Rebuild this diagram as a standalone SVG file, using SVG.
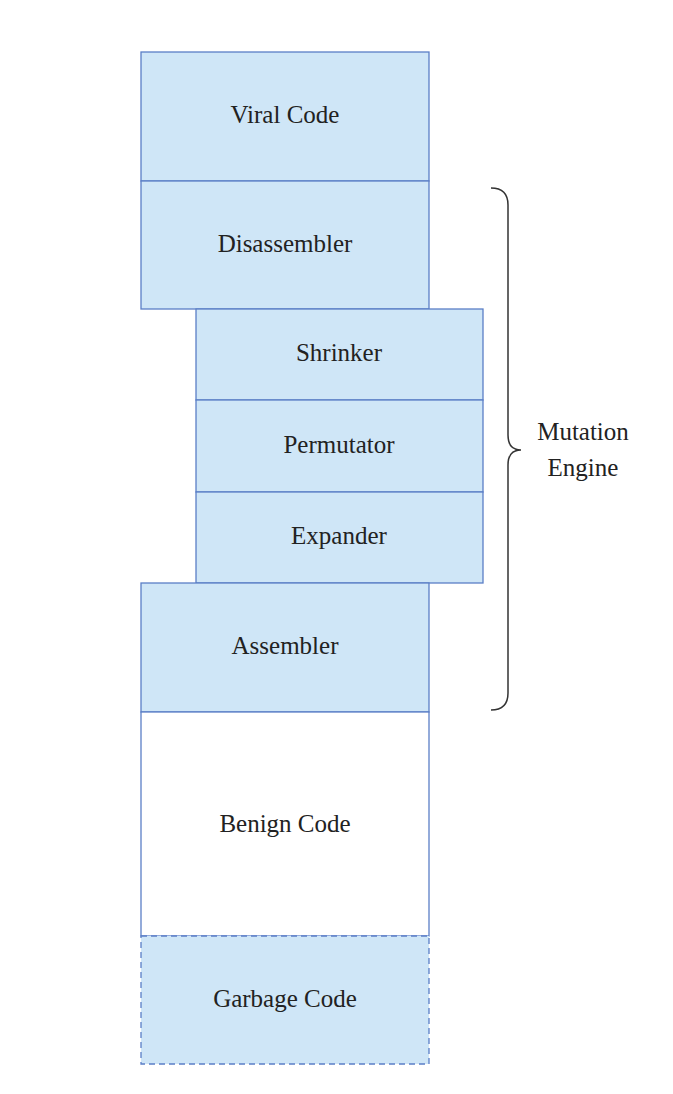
<svg xmlns="http://www.w3.org/2000/svg" width="673" height="1094" viewBox="0 0 673 1094">
<style>
.b{fill:#cfe6f7;stroke:#5b7fc7;stroke-width:1.3}
.w{fill:#ffffff;stroke:#5b7fc7;stroke-width:1.3}
.d{fill:#cfe6f7;stroke:#5b7fc7;stroke-width:1.3;stroke-dasharray:6,4}
text{font-family:"Liberation Serif",serif;font-size:25px;fill:#222;text-anchor:middle}
</style>
<rect width="673" height="1094" fill="#fff"/>
<g id="viral"><rect class="b" x="141" y="52" width="288" height="129"/><text x="285" y="123">Viral Code</text></g>
<g id="disassembler"><rect class="b" x="141" y="181" width="288" height="128"/><text x="285" y="252">Disassembler</text></g>
<g id="shrinker"><rect class="b" x="196" y="309" width="287" height="91"/><text x="339" y="361">Shrinker</text></g>
<g id="permutator"><rect class="b" x="196" y="400" width="287" height="92"/><text x="339" y="453">Permutator</text></g>
<g id="expander"><rect class="b" x="196" y="492" width="287" height="91"/><text x="339" y="544">Expander</text></g>
<g id="assembler"><rect class="b" x="141" y="583" width="288" height="129"/><text x="285" y="654">Assembler</text></g>
<g id="benign"><rect class="w" x="141" y="712" width="288" height="224"/><text x="285" y="832">Benign Code</text></g>
<g id="garbage"><rect class="d" x="141" y="936" width="288" height="128"/><text x="285" y="1007">Garbage Code</text></g>
<g id="connectors"><path d="M491,188 Q508,188 508,205 L508,435 Q508,450 521,450 Q508,450 508,465 L508,693 Q508,710 491,710" fill="none" stroke="#333" stroke-width="1.5"/></g>
<g id="mutation"><text x="583" y="440">Mutation</text><text x="583" y="476">Engine</text></g>
</svg>
